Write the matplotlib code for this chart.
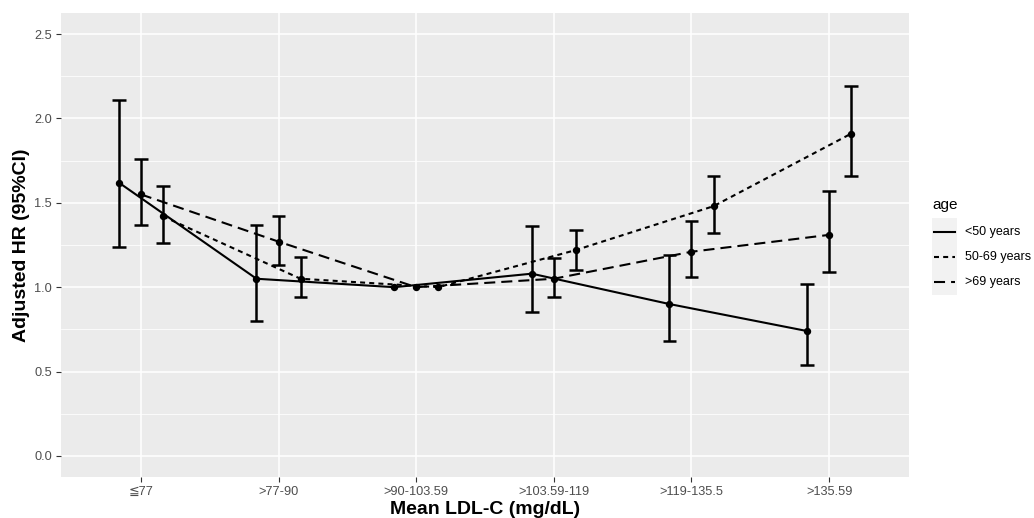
import matplotlib
matplotlib.use("Agg")
import matplotlib.pyplot as plt
from matplotlib.lines import Line2D
from matplotlib.patches import Rectangle
import numpy as np

plt.rcParams['font.family'] = ['Liberation Sans', 'DejaVu Sans']

categories = ["≦77", ">77-90", ">90-103.59", ">103.59-119", ">119-135.5", ">135.59"]
age_groups = ["<50 years", "50-69 years", ">69 years"]

hr_lt50 = [1.62, 1.05, 1.00, 1.08, 0.90, 0.74]
lo_lt50 = [1.24, 0.80, 1.00, 0.85, 0.68, 0.54]
hi_lt50 = [2.11, 1.37, 1.00, 1.36, 1.19, 1.02]

hr_50_69 = [1.42, 1.05, 1.00, 1.22, 1.48, 1.91]
lo_50_69 = [1.26, 0.94, 1.00, 1.10, 1.32, 1.66]
hi_50_69 = [1.60, 1.18, 1.00, 1.34, 1.66, 2.19]

hr_gt69 = [1.55, 1.27, 1.00, 1.05, 1.21, 1.31]
lo_gt69 = [1.37, 1.13, 1.00, 0.94, 1.06, 1.09]
hi_gt69 = [1.76, 1.42, 1.00, 1.17, 1.39, 1.57]

y_ticks = [0.0, 0.5, 1.0, 1.5, 2.0, 2.5]

W, H = 1034, 518
fig = plt.figure(figsize=(W / 100, H / 100), dpi=100)
ax = fig.add_axes([61 / W, (H - 477) / H, 848 / W, 464 / H])
ax.set_facecolor("#EBEBEB")
for s in ax.spines.values():
    s.set_visible(False)

x = np.arange(len(categories))
dashed = (0, (5.3, 2.9))
dotted = (0, (2.4, 2.0))

series = [
    (hr_lt50, lo_lt50, hi_lt50, -0.16, "-"),
    (hr_gt69, lo_gt69, hi_gt69, 0.0, dashed),
    (hr_50_69, lo_50_69, hi_50_69, 0.16, dotted),
]

cap = 0.05
for hr, lo, hi, off, ls in series:
    xs = x + off
    ax.plot(xs, hr, color="black", lw=1.5, linestyle=ls, zorder=3)
    for xi, l, h in zip(xs, lo, hi):
        if h - l > 1e-9:
            ax.plot([xi, xi], [l, h], color="black", lw=1.8, zorder=4,
                    solid_capstyle="butt")
            ax.plot([xi - cap, xi + cap], [l, l], color="black", lw=1.8, zorder=4,
                    solid_capstyle="butt")
            ax.plot([xi - cap, xi + cap], [h, h], color="black", lw=1.8, zorder=4,
                    solid_capstyle="butt")
    ax.plot(xs, hr, linestyle="none", marker="o", ms=4.3, color="black", zorder=5)

ax.set_xlim(-0.58, len(categories) - 1 + 0.58)
ax.set_ylim(-0.125, 2.625)

ax.set_yticks(y_ticks)
ax.set_yticklabels([f"{v:.1f}" for v in y_ticks])
ax.set_yticks(np.arange(0.25, 2.5, 0.5), minor=True)
ax.set_xticks(x)
ax.set_xticklabels(categories)

ax.grid(True, which="major", color="white", lw=1.1)
ax.grid(True, which="minor", axis="y", color="white", lw=0.55)
ax.set_axisbelow(True)

ax.tick_params(axis="both", which="major", length=3.5, width=0.8, color="#333333",
               labelcolor="#4D4D4D", labelsize=9.2, pad=3)
ax.tick_params(axis="y", which="minor", length=0)

fig.text(485 / W, 1 - 509 / H, "Mean LDL-C (mg/dL)", ha="center", va="center",
         fontsize=14, fontweight="bold")
fig.text(22 / W, 1 - 245 / H, "Adjusted HR (95%CI)", ha="center", va="center",
         rotation=90, fontsize=14, fontweight="bold")

# legend
fig.text(932 / W, 1 - 205 / H, "age", ha="left", va="center", fontsize=11)
fig.add_artist(Rectangle((932 / W, 1 - 295 / H), 25 / W, 77 / H,
                         transform=fig.transFigure, facecolor="#F2F2F2",
                         edgecolor="none"))
key_styles = ["-", dotted, dashed]
for i, (lab, ls) in enumerate(zip(age_groups, key_styles)):
    yk = 1 - (232 + 25 * i) / H
    fig.add_artist(Line2D([934 / W, 955 / W], [yk, yk], transform=fig.transFigure,
                          color="black", lw=1.5, linestyle=ls))
    fig.text(965 / W, yk, lab, ha="left", va="center", fontsize=9)

fig.savefig("out.png", dpi=100)
